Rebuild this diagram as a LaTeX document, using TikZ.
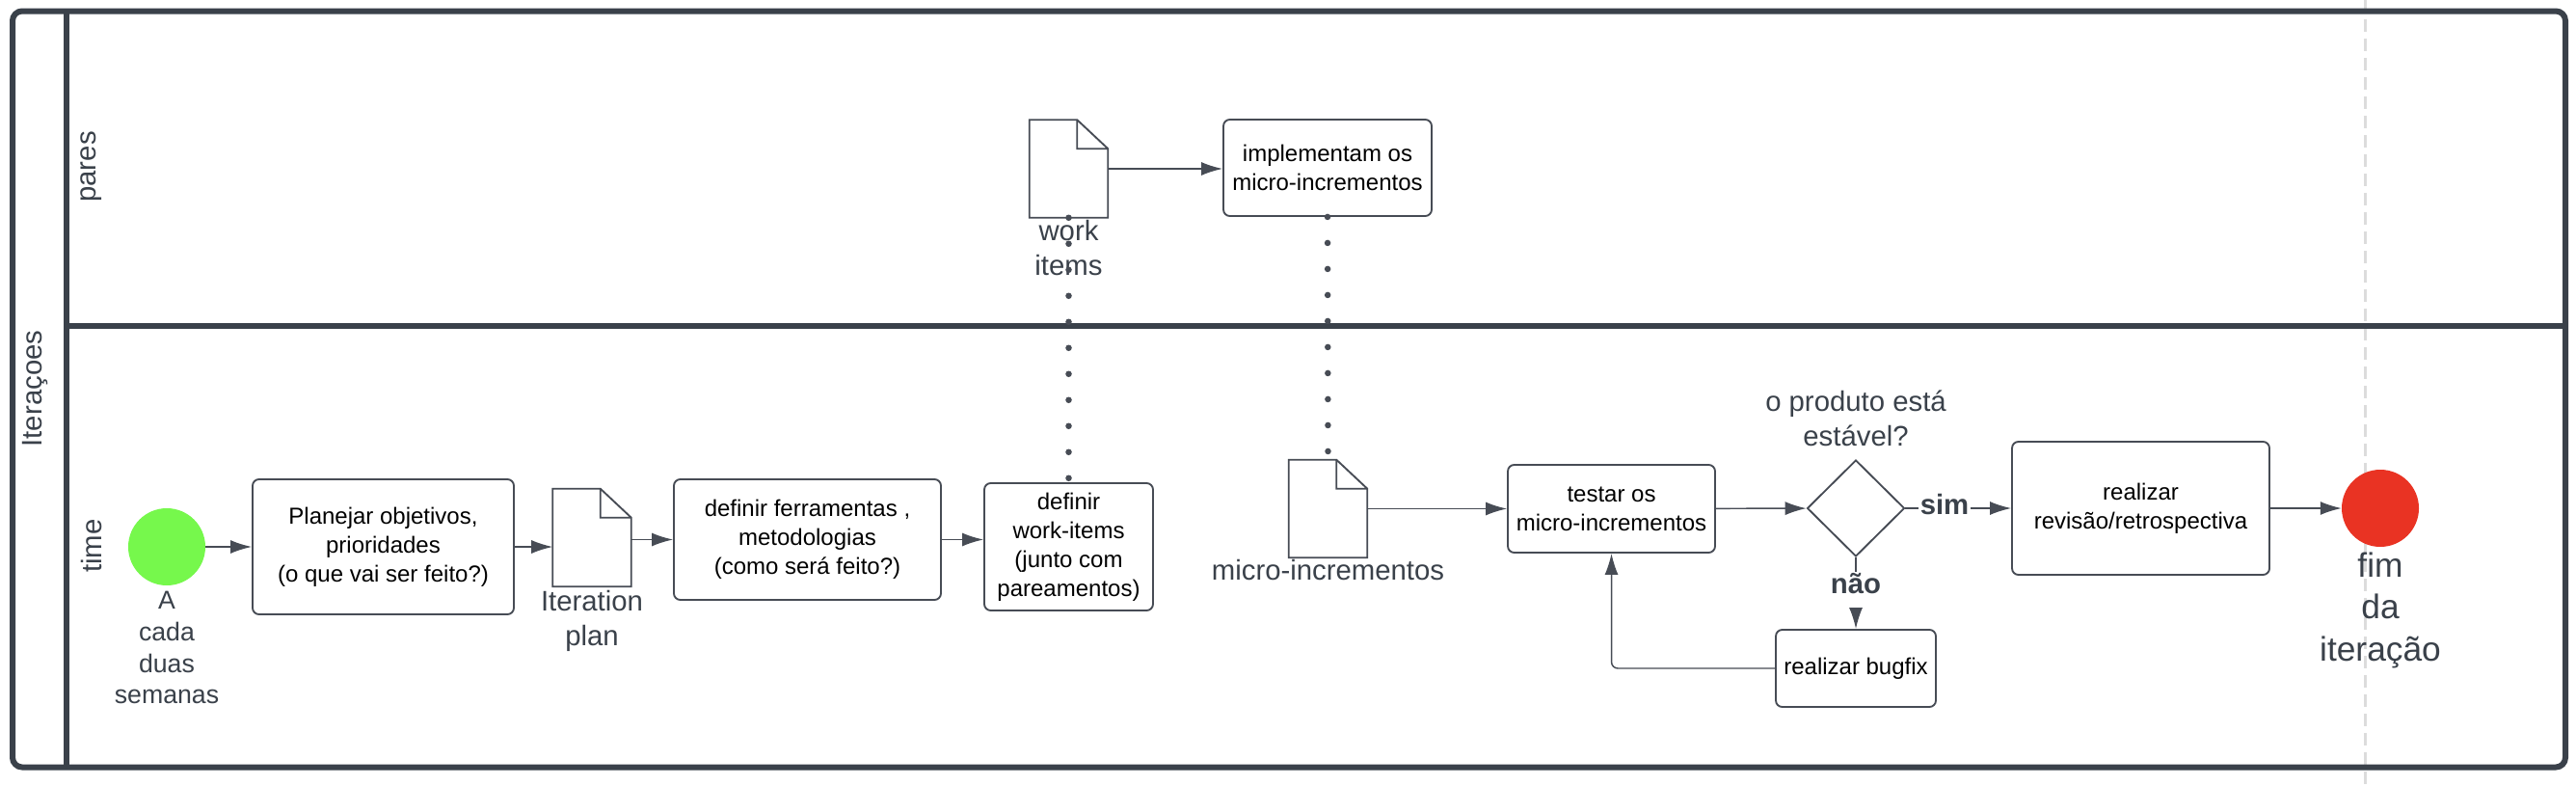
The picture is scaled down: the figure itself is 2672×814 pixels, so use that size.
\documentclass[tikz,border=0pt]{standalone}
\usepackage{fontspec}
\setmainfont{Liberation Sans}
\usepackage{tikz}
\usetikzlibrary{shapes.geometric,arrows.meta}
\definecolor{framegray}{HTML}{3A414A}
\definecolor{edgegray}{HTML}{474C55}
\definecolor{startgreen}{HTML}{76F84C}
\definecolor{endred}{HTML}{E93323}
\definecolor{guidegray}{HTML}{DCDCDC}
\newcommand{\boxfont}{\fontsize{18}{22.5}\selectfont}
\newcommand{\lblfont}{\fontsize{22}{27}\selectfont}
\tikzstyle{block} = [rectangle, draw=edgegray, line width=1.4pt, rounded corners=5pt,
    align=center, text=black, font=\boxfont, inner sep=0pt]
\tikzstyle{decision} = [diamond, draw=edgegray, line width=1.4pt, minimum width=75.75pt,
    minimum height=75pt, inner sep=0pt]
\tikzstyle{doc} = [rectangle, minimum width=60.75pt, minimum height=75.75pt, inner sep=0pt]
\tikzstyle{docline} = [draw=edgegray, line width=1.4pt]
\tikzstyle{event} = [circle, minimum size=60pt, inner sep=0pt]
\tikzstyle{note} = [text=framegray, font=\lblfont, align=center, inner sep=0pt]
\tikzstyle{lanelabel} = [text=framegray, font=\lblfont, rotate=90, inner sep=0pt]
\tikzstyle{lane} = [draw=framegray, line width=4.5pt]
\tikzstyle{guide} = [draw=guidegray, line width=2.25pt, dash pattern=on 9.75pt off 5.25pt]
\tikzstyle{dots} = [draw=edgegray, line width=4.9pt, line cap=round, dash pattern=on 0pt off 20.25pt]
\tikzstyle{answer} = [text=framegray, font=\bfseries\lblfont, fill=white, inner sep=1pt]
\tikzstyle{line} = [draw=edgegray, line width=1.1pt, -{Latex[length=16.5pt,width=10.5pt]}]

\begin{document}
\begin{tikzpicture}[x=0.75pt, y=-0.75pt]
\path[fill=white, use as bounding box] (0,0) rectangle (2672,814);
% end of iteration guide
\path[guide] (2453,0) -- (2453,814);
% pool and lanes
\path[lane, rounded corners=7.5pt] (13,11.5) rectangle (2661,795.5);
\path[lane] (69,11.5) -- (69,795.5);
\path[lane] (69,337.5) -- (2661,337.5);
\node [lanelabel] (pool) at (37,403) {Iteraçoes};
\node [lanelabel] (pares) at (95,173) {pares};
\node [lanelabel] (time) at (95,566) {time};

% lane "time"
\node [event, fill=startgreen] (start) at (173,567) {};
\node [block, minimum width=203.25pt, minimum height=105pt] (goals) at (397.5,567) {Planejar objetivos,\\prioridades\\(o que vai ser feito?)};
\node [doc] (itplan) at (614,557.5) {};
\node [block, minimum width=207.75pt, minimum height=93.75pt] (tools) at (837.5,559.5) {definir ferramentas ,\\metodologias\\(como será feito?)};
\node [block, minimum width=131.25pt, minimum height=99pt] (workitems) at (1108.5,567) {definir\\work-items\\(junto com\\pareamentos)};
\node [doc] (midoc) at (1377.5,527.5) {};
\node [block, minimum width=161.25pt, minimum height=68.25pt] (test) at (1671.5,527.5) {testar os\\micro-incrementos};
\node [decision] (stable) at (1925,527) {};
\node [block, minimum width=124.5pt, minimum height=60pt] (bugfix) at (1925,693) {realizar bugfix};
\node [block, minimum width=200.25pt, minimum height=103.5pt] (review) at (2220.5,527) {realizar\\revisão/retrospectiva};
\node [event, fill=endred] (finish) at (2469,527) {};

% lane "pares"
\node [doc] (widoc) at (1108.5,175) {};
\node [block, minimum width=162pt, minimum height=75pt] (implement) at (1377,174) {implementam os\\micro-incrementos};

% documents
\foreach \d in {itplan,widoc,midoc}
  \path[docline] (\d.north west) -- ([xshift=-24pt]\d.north east) -- ([yshift=-22.5pt]\d.north east)
    -- (\d.south east) -- (\d.south west) -- cycle
    ([xshift=-24pt]\d.north east) |- ([yshift=-22.5pt]\d.north east);

% labels
\node [note, font=\fontsize{20}{24.5}\selectfont, anchor=north] (startlbl) at ([yshift=-4.5pt]start.south) {A\\cada\\duas\\semanas};
\node [note, anchor=north] (itplanlbl) at ([yshift=-3pt]itplan.south) {Iteration\\plan};
\node [note, anchor=north] (widoclbl) at ([yshift=-1.5pt]widoc.south) {work\\items};
\node [note, anchor=north] (midoclbl) at ([yshift=-1.5pt]midoc.south) {micro-incrementos};
\node [note, anchor=south] (stablelbl) at ([yshift=9.75pt]stable.north) {o produto está\\estável?};
\node [note, font=\fontsize{26.5}{32.6}\selectfont, anchor=north] (finishlbl) at ([yshift=-4pt]finish.south) {fim\\da\\iteração};

% connectors
\path [dots] (widoc.south) -- (workitems.north);
\path [dots] (implement.south) -- (midoc.north);
\path [line] (start) -- (goals);
\path [line] (goals.east) -- (goals.east -| itplan.west);
\path [line] (tools.west -| itplan.east) -- (tools.west);
\path [line] (tools.east) -- (tools.east -| workitems.west);
\path [line] (widoc.east) -- (widoc.east -| implement.west);
\path [line] (midoc) -- (test);
\path [line] (test) -- (stable);
\path [line] (stable) -- node [answer, pos=.37, anchor=base, yshift=-4.5pt] {sim} (review);
\path [line] (stable) -- node [answer, pos=.51, anchor=base, text depth=10pt] {não} (bugfix);
\path [line, rounded corners=5pt] (bugfix) -| (test);
\path [line] (review) -- (finish);
\end{tikzpicture}
\end{document}
